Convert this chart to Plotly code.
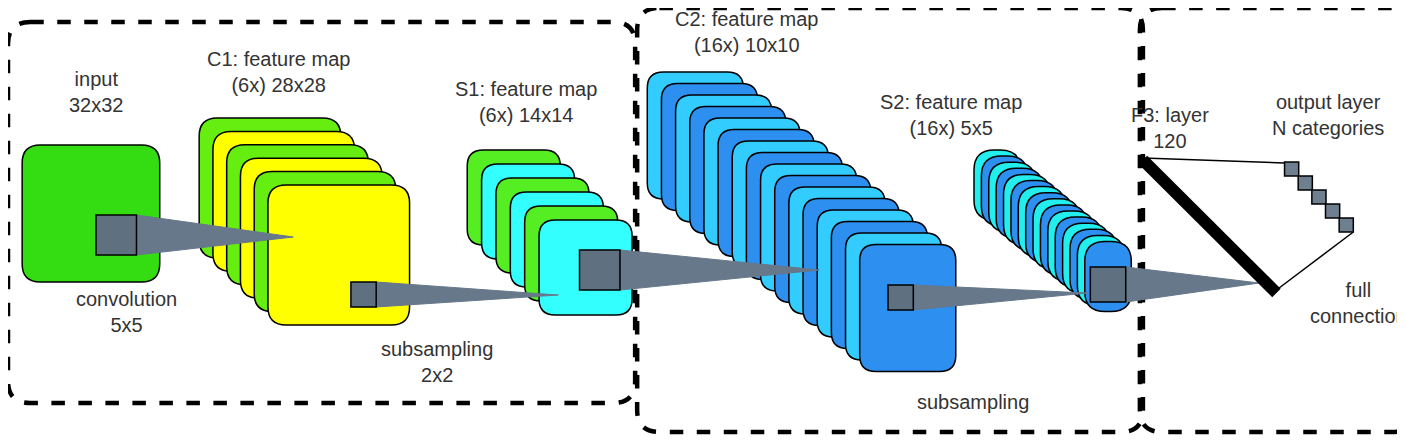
import plotly.graph_objects as go

W, H = 1405, 445

# layer stacks: (name, x0, y0, dx, dy, width, height, radius, colors)
stacks = [
    ("input", 22, 145, 0, 0, 136, 137, 18, ["#33dd11"]),
    ("C1", 197, 118, 13.6, 13.4, 140, 140, 18, ["#66ee11", "#ffff00"] * 3),
    ("S1", 462, 150, 14.2, 14, 92, 95, 16, ["#55ee22", "#33ffff"] * 3),
    ("C2", 640, 72, 14, 11.5, 95, 127, 16, ["#33ccff", "#2d8ff0"] * 8),
    ("S2", 963, 150, 7.3, 6.1, 46, 70, 20, ["#22eeee", "#2d8ff0"] * 8),
]
# receptive-field squares and their cones: (x0, y0, size, tip_x, tip_y)
cones = [
    (95, 215, 40, 290, 237),
    (347, 282, 25, 552, 295),
    (573, 250, 40, 810, 270),
    (878, 285, 25, 1075, 293),
    (1078, 267, 35, 1245, 283),
]
labels = [
    (95, 92, "input<br>32x32"),
    (275, 72, "C1: feature map<br>(6x) 28x28"),
    (520, 102, "S1: feature map<br>(6x) 14x14"),
    (738, 32, "C2: feature map<br>(16x) 10x10"),
    (940, 115, "S2: feature map<br>(16x) 5x5"),
    (1157, 128, "F3: layer<br>120"),
    (1313, 115, "output layer<br>N categories"),
    (1343, 303, "full<br>connection"),
    (125, 312, "convolution<br>5x5"),
    (432, 362, "subsampling<br>2x2"),
    (962, 402, "subsampling"),
]
frames = [(8, 22, 628, 403), (630, 8, 1130, 432), (1127, 8, 1398, 432)]
n_out = 5


def rrect(x0, y0, x1, y1, r):
    return (f"M{x0+r},{y0} L{x1-r},{y0} Q{x1},{y0} {x1},{y0+r} L{x1},{y1-r} "
            f"Q{x1},{y1} {x1-r},{y1} L{x0+r},{y1} Q{x0},{y1} {x0},{y1-r} "
            f"L{x0},{y0+r} Q{x0},{y0} {x0+r},{y0} Z")


shapes = []
for x0, y0, x1, y1 in frames:
    shapes.append(dict(type="path", path=rrect(x0, y0, x1, y1, 22),
                       line=dict(color="black", width=4.5, dash="dash")))
for name, x0, y0, dx, dy, w, h, r, cols in stacks:
    for i, c in enumerate(cols):
        x, y = x0 + i * dx, y0 + i * dy
        shapes.append(dict(type="path", path=rrect(x, y, x + w, y + h, r),
                           fillcolor=c, line=dict(color="black", width=1.5)))
for x, y, s, tx, ty in cones:
    shapes.append(dict(type="path",
                       path=f"M{x+s},{y} L{tx},{ty} L{x+s},{y+s} Z",
                       fillcolor="#66788a", line=dict(color="#66788a", width=1)))
    shapes.append(dict(type="rect", x0=x, y0=y, x1=x + s, y1=y + s,
                       fillcolor="#5f7080", line=dict(color="black", width=1.5)))

# full connection
shapes.append(dict(type="line", x0=1130, y0=160, x1=1262, y1=293,
                   line=dict(color="black", width=12)))
shapes.append(dict(type="line", x0=1130, y0=158, x1=1270, y1=163,
                   line=dict(color="black", width=1.5)))
shapes.append(dict(type="line", x0=1262, y0=290, x1=1338, y1=232,
                   line=dict(color="black", width=1.5)))
for i in range(n_out):
    x, y = 1270 + i * 13.5, 162 + i * 14
    shapes.append(dict(type="rect", x0=x, y0=y, x1=x + 14, y1=y + 14,
                       fillcolor="#6e7f90", line=dict(color="black", width=1.5)))

fig = go.Figure()
fig.add_trace(go.Scatter(x=[0, W], y=[0, H], mode="markers",
                         marker=dict(opacity=0), hoverinfo="skip"))
for x, y, t in labels:
    fig.add_annotation(x=x, y=y, text=t, showarrow=False,
                       font=dict(family="Liberation Sans, Arial", size=20, color="#333"))
fig.update_layout(
    width=W, height=H, margin=dict(l=0, r=0, t=0, b=0),
    plot_bgcolor="white", paper_bgcolor="white", showlegend=False, shapes=shapes,
    xaxis=dict(range=[8, 1397], visible=False),
    yaxis=dict(range=[453, 8], visible=False),
)
fig.write_html("out.html")
